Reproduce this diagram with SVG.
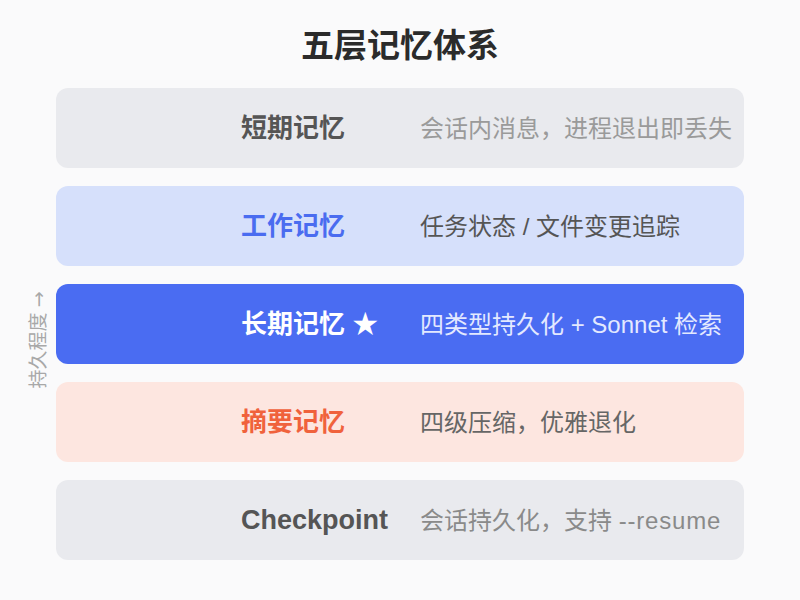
<svg xmlns="http://www.w3.org/2000/svg" width="800" height="600" viewBox="0 0 800 600">
<style>
text{font-family:"Liberation Sans","Noto Sans CJK SC",sans-serif}
.title{font-size:33px;font-weight:700;fill:#2b2b2b}
.lbl{font-size:26px;font-weight:700}
.desc{font-size:24px}
.side{font-size:19px;fill:#a8a8a8}
.arrow{font-family:"DejaVu Sans",sans-serif}
</style>
<rect width="800" height="600" fill="#fafafb"/>
<text class="title" x="400" y="57" text-anchor="middle">五层记忆体系</text>
<g id="axis">
<text class="side" transform="translate(45,340) rotate(-90)" text-anchor="middle">持久程度 <tspan class="arrow">→</tspan></text>
</g>
<g id="short-term">
<rect x="56" y="88" width="688" height="80" rx="12" fill="#e9eaee"/>
<text class="lbl" x="241" y="137" fill="#555555">短期记忆</text>
<text class="desc" x="420" y="137" fill="#9a9a9a">会话内消息，进程退出即丢失</text>
</g>
<g id="working">
<rect x="56" y="186" width="688" height="80" rx="12" fill="#d6e0fb"/>
<text class="lbl" x="241" y="235" fill="#4a6cf0">工作记忆</text>
<text class="desc" x="420" y="235" fill="#555555">任务状态 / 文件变更追踪</text>
</g>
<g id="long-term">
<rect x="56" y="284" width="688" height="80" rx="12" fill="#4a6cf2"/>
<text class="lbl" x="241" y="333" fill="#ffffff">长期记忆 ★</text>
<text class="desc" x="420" y="333" fill="#e3e9ff">四类型持久化 + Sonnet 检索</text>
</g>
<g id="summary">
<rect x="56" y="382" width="688" height="80" rx="12" fill="#fde6e0"/>
<text class="lbl" x="241" y="431" fill="#f0623c">摘要记忆</text>
<text class="desc" x="420" y="431" fill="#666666">四级压缩，优雅退化</text>
</g>
<g id="checkpoint">
<rect x="56" y="480" width="688" height="80" rx="12" fill="#e9eaee"/>
<text class="lbl" x="241" y="529" fill="#555555" style="font-size:27px">Checkpoint</text>
<text class="desc" x="420" y="529" fill="#8a8a8a">会话持久化，支持 <tspan letter-spacing="0.8">--resume</tspan></text>
</g>
<g id="connectors"/>
</svg>
